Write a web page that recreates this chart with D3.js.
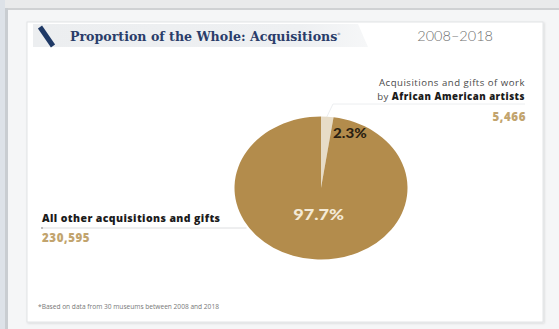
<!DOCTYPE html>
<html>
<head>
<meta charset="utf-8">
<script src="https://cdn.jsdelivr.net/npm/d3@7"></script>
<style>
  html, body { margin: 0; padding: 0; background: #f4f5f6; }
  svg { display: block; }
</style>
</head>
<body>
<div id="chart"></div>
<script>
// ----- data -----
const categories = ["African American artists", "All other acquisitions and gifts"];
const counts = [5466, 230595];
const percentLabels = ["2.3%", "97.7%"];
const countLabels = ["5,466", "230,595"];
const sliceColors = ["#e7dcc7", "#b38c4c"];

const w = 559;
const h = 329;

const svg = d3.select("#chart").append("svg")
  .attr("width", w)
  .attr("height", h)
  .style("font-family", "'Open Sans', Lato, sans-serif");

// ---------- frame (screenshot-ish border) ----------
svg.append("rect").attr("width", w).attr("height", h).attr("fill", "#f5f6f7");
svg.append("rect").attr("width", w).attr("height", 8).attr("fill", "#e9eaeb");
svg.append("rect").attr("y", 8).attr("width", w).attr("height", 2).attr("fill", "#cfd1d3");
svg.append("rect").attr("width", 5).attr("height", h).attr("fill", "#dde2e8");
svg.append("rect").attr("x", 5).attr("y", 8).attr("width", 3).attr("height", h).attr("fill", "#c9cdd1");

// card
const defs = svg.append("defs");
const shadow = defs.append("filter").attr("id", "shadow")
  .attr("x", "-5%").attr("y", "-5%").attr("width", "110%").attr("height", "110%");
shadow.append("feDropShadow")
  .attr("dx", 1).attr("dy", 1).attr("stdDeviation", 1.2)
  .attr("flood-color", "#000").attr("flood-opacity", 0.12);

svg.append("rect")
  .attr("x", 27).attr("y", 22)
  .attr("width", 516).attr("height", 300)
  .attr("fill", "#fff")
  .attr("stroke", "#e2e4e6")
  .attr("filter", "url(#shadow)");

// ---------- header band ----------
const bandGrad = defs.append("linearGradient").attr("id", "band")
  .attr("x1", "0%").attr("x2", "100%");
bandGrad.append("stop").attr("offset", "0%").attr("stop-color", "#eceef0");
bandGrad.append("stop").attr("offset", "80%").attr("stop-color", "#eef0f2");
bandGrad.append("stop").attr("offset", "100%").attr("stop-color", "#f6f7f8");

svg.append("path")
  .attr("d", "M33,24 L358,24 L368,47 L33,47 Z")
  .attr("fill", "url(#band)");

svg.append("line")
  .attr("x1", 40).attr("y1", 27)
  .attr("x2", 53).attr("y2", 46)
  .attr("stroke", "#1f3966")
  .attr("stroke-width", 5);

svg.append("text")
  .attr("x", 70).attr("y", 41)
  .attr("font-family", "'DejaVu Serif', 'Liberation Serif', serif")
  .attr("font-weight", "bold")
  .attr("font-size", 12.6)
  .attr("fill", "#2a3d6a")
  .text("Proportion of the Whole: Acquisitions")
  .append("tspan")
  .attr("font-size", 6)
  .attr("dy", -4)
  .attr("fill", "#8a93a8")
  .text("*");

svg.append("text")
  .attr("x", 493).attr("y", 41)
  .attr("text-anchor", "end")
  .attr("font-family", "Lato, sans-serif")
  .attr("font-size", 14.5)
  .attr("font-weight", 300)
  .attr("fill", "#6f6f6f")
  .text("2008–2018");

// ---------- pie ----------
const cx = 321, cy = 188;
const radius = 71.5;
const stretchX = 86.5 / 71.5;

const pie = d3.pie().sort(null).value(d => d);
const arcs = pie(counts);

const arc = d3.arc().innerRadius(0).outerRadius(radius);

// leader lines (behind pie)
svg.append("polyline")
  .attr("points", [[cx + 5, cy - radius + 2], [cx + 12, 104], [525, 104]].map(p => p.join(",")).join(" "))
  .attr("fill", "none")
  .attr("stroke", "#eceef0")
  .attr("stroke-width", 1);

svg.append("line")
  .attr("x1", 42).attr("y1", 228)
  .attr("x2", cx - radius * stretchX + 12).attr("y2", 228)
  .attr("stroke", "#d4d6d8")
  .attr("stroke-width", 0.8);
svg.append("circle").attr("cx", 42).attr("cy", 228).attr("r", 1).attr("fill", "#aaa");

const pg = svg.append("g")
  .attr("transform", `translate(${cx},${cy}) scale(${stretchX},1)`);

pg.selectAll("path.slice")
  .data(arcs)
  .join("path")
  .attr("class", "slice")
  .attr("d", arc)
  .attr("fill", (d, i) => sliceColors[i]);

// small slice label sits to the right of the wedge
const smallPos = d3.arc().innerRadius(55).outerRadius(55).centroid(arcs[0]);
pg.append("text")
  .attr("x", smallPos[0] + 6)
  .attr("y", smallPos[1])
  .attr("dy", "0.35em")
  .attr("font-family", "Lato, sans-serif")
  .attr("font-weight", 900)
  .attr("font-size", 12.5)
  .attr("fill", "#2a1f12")
  .text(percentLabels[0]);

const bigPos = d3.arc().innerRadius(27).outerRadius(27).centroid(arcs[1]);
pg.append("text")
  .attr("x", bigPos[0])
  .attr("y", bigPos[1])
  .attr("dy", "0.35em")
  .attr("text-anchor", "middle")
  .attr("font-family", "Lato, sans-serif")
  .attr("font-weight", 900)
  .attr("font-size", 15)
  .attr("fill", "#f4ead6")
  .text(percentLabels[1]);

// ---------- labels ----------
svg.append("text")
  .attr("x", 525).attr("y", 86)
  .attr("text-anchor", "end")
  .attr("font-size", 9.6)
  .attr("letter-spacing", 0.5)
  .attr("fill", "#4a4a4a")
  .text("Acquisitions and gifts of work");

svg.append("text")
  .attr("x", 525).attr("y", 99.5)
  .attr("text-anchor", "end")
  .attr("font-size", 9.6)
  .attr("letter-spacing", 0.5)
  .attr("fill", "#4a4a4a")
  .text("by ")
  .append("tspan")
  .attr("font-weight", 800)
  .attr("fill", "#1b1b1b")
  .text(categories[0]);

svg.append("text")
  .attr("x", 526).attr("y", 121)
  .attr("text-anchor", "end")
  .attr("font-size", 11.5)
  .attr("font-weight", 800)
  .attr("letter-spacing", 0.6)
  .attr("fill", "#c2a46e")
  .text(countLabels[0]);

svg.append("text")
  .attr("x", 42).attr("y", 222)
  .attr("font-size", 10.5)
  .attr("font-weight", 800)
  .attr("letter-spacing", 0.4)
  .attr("fill", "#1b1b1b")
  .text(categories[1]);

svg.append("text")
  .attr("x", 42).attr("y", 242)
  .attr("font-size", 11.5)
  .attr("font-weight", 800)
  .attr("letter-spacing", 0.6)
  .attr("fill", "#c2a46e")
  .text(countLabels[1]);

// ---------- footnote ----------
svg.append("text")
  .attr("x", 38).attr("y", 309)
  .attr("font-size", 6.6)
  .attr("fill", "#777")
  .text("*Based on data from 30 museums between 2008 and 2018");
</script>
</body>
</html>
